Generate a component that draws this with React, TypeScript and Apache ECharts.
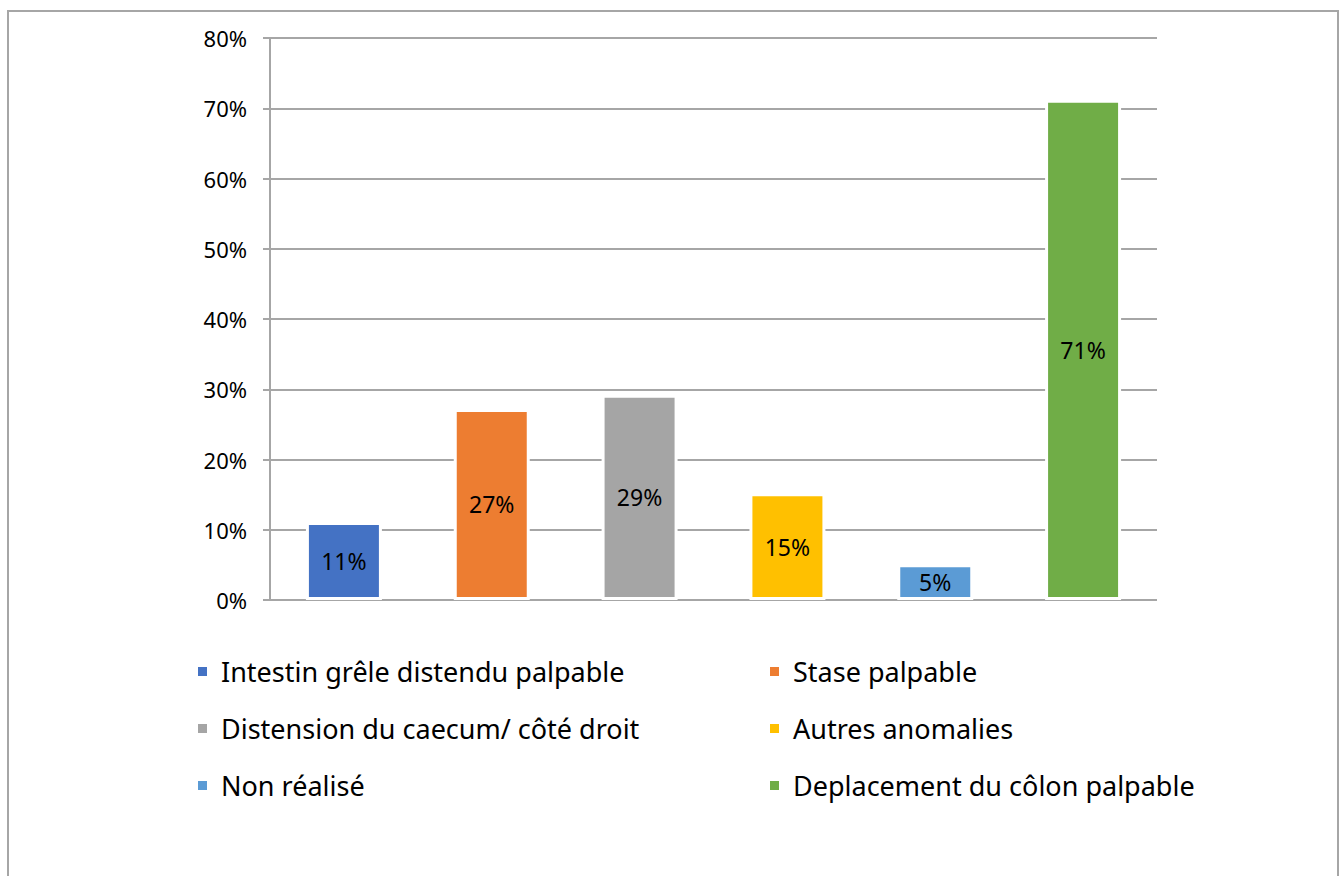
import React, { useEffect, useRef } from "react";
import * as echarts from "echarts";

const categories = [
  "Intestin grêle distendu palpable",
  "Stase palpable",
  "Distension du caecum/ côté droit",
  "Autres anomalies",
  "Non réalisé",
  "Deplacement du côlon palpable",
];
const values = [11.1, 27.2, 29.2, 15.2, 5.1, 71.2];
const colors = ["#4472C4", "#ED7D31", "#A5A5A5", "#FFC000", "#5B9BD5", "#70AD47"];
const legendLeftCol = [categories[0], categories[2], categories[4]];
const legendRightCol = [categories[1], categories[3], categories[5]];

const FONT = "Noto Sans";

export default function App() {
  const ref = useRef<HTMLDivElement>(null);
  useEffect(() => {
    if (!ref.current) return;
    const chart = echarts.init(ref.current, null, { renderer: "svg" });
    const series = categories.map((name, i) => ({
      name,
      type: "bar",
      barWidth: 76,
      barGap: "-100%",
      data: categories.map((_, j) => (j === i ? values[i] : null)),
      itemStyle: { color: colors[i], borderColor: "#ffffff", borderWidth: 3 },
      label: {
        show: true,
        position: "inside",
        formatter: (p: any) => Math.round(p.value) + "%",
        color: "#000000",
        fontFamily: FONT,
        fontSize: 23,
      },
    }));
    const legendCommon = {
      orient: "vertical",
      top: 653,
      itemWidth: 11,
      itemHeight: 11,
      itemGap: 30,
      icon: "rect",
      textStyle: { fontFamily: FONT, fontSize: 27, color: "#000000", padding: [0, 0, 0, 8] },
    };
    chart.setOption({
      animation: false,
      backgroundColor: "#ffffff",
      grid: { left: 270, right: 186, top: 38, bottom: 276 },
      xAxis: {
        type: "category",
        data: categories,
        axisLine: { show: false },
        axisTick: { show: false },
        axisLabel: { show: false },
      },
      yAxis: {
        type: "value",
        min: 0,
        max: 80,
        interval: 10,
        axisLine: { show: true, lineStyle: { color: "#a6a6a6", width: 2 } },
        axisTick: { show: true, length: 7, lineStyle: { color: "#a6a6a6", width: 2 } },
        axisLabel: {
          formatter: "{value}%",
          color: "#000000",
          fontFamily: FONT,
          fontSize: 22,
          margin: 23,
        },
        splitLine: { show: true, lineStyle: { color: "#a6a6a6", width: 2 } },
      },
      legend: [
        { ...legendCommon, left: 191, data: legendLeftCol },
        { ...legendCommon, left: 763, data: legendRightCol },
      ],
      graphic: [
        {
          type: "rect",
          shape: { x: 8, y: 11, width: 1330, height: 900 },
          style: { fill: "none", stroke: "#a6a6a6", lineWidth: 2 },
          silent: true,
        },
      ],
      series,
    });
    return () => chart.dispose();
  }, []);
  return (
    <div
      ref={ref}
      style={{ position: "fixed", left: 0, top: 0, width: 1343, height: 876 }}
    />
  );
}
